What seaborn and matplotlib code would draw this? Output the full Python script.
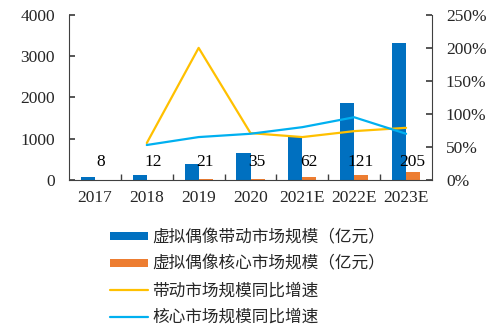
import numpy as np
import pandas as pd
import matplotlib
matplotlib.use("Agg")
import matplotlib.pyplot as plt
import seaborn as sns
from matplotlib.patches import Patch
from matplotlib.lines import Line2D

categories = ["2017", "2018", "2019", "2020", "2021E", "2022E", "2023E"]
driven_market = [75, 120, 390, 650, 1040, 1870, 3320]
core_market = [8, 12, 21, 35, 62, 121, 205]
growth_years = ["2018", "2019", "2020", "2021E", "2022E", "2023E"]
driven_growth = [0.56, 2.00, 0.71, 0.65, 0.74, 0.79]
core_growth = [0.53, 0.65, 0.70, 0.80, 0.95, 0.70]

name_driven = "虚拟偶像带动市场规模（亿元）"
name_core = "虚拟偶像核心市场规模（亿元）"
name_dg = "带动市场规模同比增速"
name_cg = "核心市场规模同比增速"

c_blue = "#0070C0"
c_orange = "#ED7D31"
c_yellow = "#FFC000"
c_light = "#00B0F0"

sns.set_theme(style="white")
plt.rcParams["font.family"] = ["Liberation Serif", "Noto Sans CJK SC", "DejaVu Sans"]

FS = 12.5

df = pd.DataFrame({
    "year": categories * 2,
    "value": driven_market + core_market,
    "series": [name_driven] * len(categories) + [name_core] * len(categories),
})

fig = plt.figure(figsize=(5, 3.3), dpi=100)
ax = fig.add_axes([0.138, 0.4545, 0.726, 0.5005])
sns.barplot(data=df, x="year", y="value", hue="series", order=categories,
            palette=[c_blue, c_orange], width=0.54, ax=ax, legend=False,
            saturation=1, edgecolor="none")
ax.set_ylim(0, 4000)
ax.set_yticks([0, 1000, 2000, 3000, 4000])
ax.set_xlim(-0.5, len(categories) - 0.5)
ax.set_xlabel("")
ax.set_ylabel("")

for i, v in enumerate(core_market):
    ax.text(i + 0.12, 440, str(v), ha="center", va="center", fontsize=FS,
            family="Liberation Serif", color="black")

ax2 = ax.twinx()
gx = np.array([categories.index(y) for y in growth_years])
gdf = pd.DataFrame({"x": np.concatenate([gx, gx]),
                    "g": driven_growth + core_growth,
                    "s": [name_dg] * len(gx) + [name_cg] * len(gx)})
sns.lineplot(data=gdf, x="x", y="g", hue="s", palette=[c_yellow, c_light],
             linewidth=1.6, ax=ax2, legend=False)
ax2.set_ylim(0, 2.5)
ax2.set_yticks([0, 0.5, 1.0, 1.5, 2.0, 2.5])
ax2.set_yticklabels([f"{int(round(t*100))}%" for t in ax2.get_yticks()])
ax2.set_xlim(-0.5, len(categories) - 0.5)
ax2.set_ylabel("")
ax2.set_xlabel("")

for a in (ax, ax2):
    a.spines["top"].set_visible(False)
    for s in ("left", "right", "bottom"):
        a.spines[s].set_color("#404040")
        a.spines[s].set_linewidth(0.8)
ax.spines["right"].set_visible(False)
ax2.spines["left"].set_visible(False)
ax2.spines["bottom"].set_visible(False)

ax.set_xticks(np.arange(len(categories)))
ax.set_xticklabels(categories)
ax.set_xticks(np.arange(len(categories) - 1) + 0.5, minor=True)
ax.tick_params(axis="x", which="major", length=0, pad=7, labelsize=FS)
ax.tick_params(axis="x", which="minor", direction="in", length=4, color="#404040", bottom=True)
ax.tick_params(axis="y", direction="in", length=4, pad=10, labelsize=FS, color="#404040", left=True)
ax2.tick_params(axis="y", direction="in", length=4, pad=10, labelsize=FS, color="#404040", right=True)

handles = [
    Patch(facecolor=c_blue, edgecolor="none", label=name_driven),
    Patch(facecolor=c_orange, edgecolor="none", label=name_core),
    Line2D([0], [0], color=c_yellow, lw=1.6, label=name_dg),
    Line2D([0], [0], color=c_light, lw=1.6, label=name_cg),
]
leg = fig.legend(handles=handles, loc="upper left", bbox_to_anchor=(0.22, 0.305),
                 frameon=False, prop={"family": ["Noto Sans CJK SC"], "size": 12},
                 handlelength=2.3, handleheight=0.35, handletextpad=0.25,
                 labelspacing=0.57, borderaxespad=0, borderpad=0)

fig.savefig("out.png", dpi=100)
